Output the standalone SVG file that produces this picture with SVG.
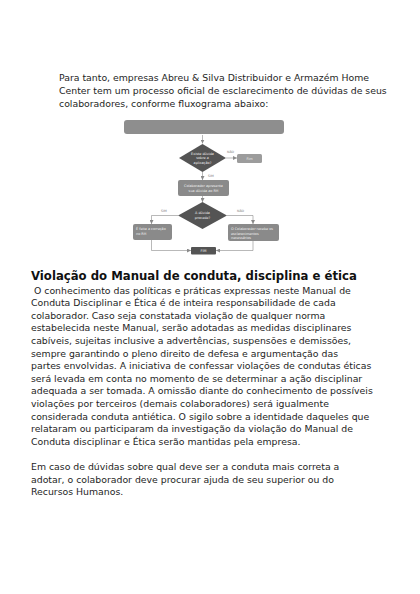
<svg xmlns="http://www.w3.org/2000/svg" width="420" height="594" viewBox="0 0 420 594">
<style>
.t{font-family:"DejaVu Sans",Verdana,sans-serif;font-size:9.33px;fill:#1e1e1e;white-space:pre}
.h{font-family:"DejaVu Sans",Verdana,sans-serif;font-size:11.7px;font-weight:bold;fill:#111}
.n{font-family:"DejaVu Sans",Verdana,sans-serif;font-size:3.4px;fill:#f2f2f2}
.lb{font-family:"DejaVu Sans",Verdana,sans-serif;font-size:3.2px;fill:#777}
.c{fill:none;stroke:#8a8a8a;stroke-width:0.6}
.box{fill:#8a8a8a}
.dk{fill:#545454}
</style>
<defs>
<marker id="a" viewBox="0 0 6 6" refX="6" refY="3" markerWidth="4" markerHeight="4" orient="auto" markerUnits="userSpaceOnUse">
<path d="M0,0 L6,3 L0,6 z" fill="#8a8a8a"/>
</marker>
</defs>
<rect width="420" height="594" fill="#fff"/>
<g id="intro">
<text class="t" x="59" y="81">Para tanto, empresas Abreu &amp; Silva Distribuidor e Armazém Home</text>
<text class="t" x="59" y="94">Center tem um processo oficial de esclarecimento de dúvidas de seus</text>
<text class="t" x="59" y="107">colaboradores, conforme fluxograma abaixo:</text>
</g>
<g id="connectors">
<path class="c" d="M202.5,135 V143.5" marker-end="url(#a)"/>
<path class="c" d="M226,158 H237" marker-end="url(#a)"/>
<path class="c" d="M202.5,172 V180" marker-end="url(#a)"/>
<path class="c" d="M202.5,196 V202" marker-end="url(#a)"/>
<path class="c" d="M178,215.5 H151.5 V224" marker-end="url(#a)"/>
<path class="c" d="M227,215.5 H253 V224" marker-end="url(#a)"/>
<path class="c" d="M151.5,240 V250.5 H191" marker-end="url(#a)"/>
<path class="c" d="M253,241 V250.5 H216" marker-end="url(#a)"/>
<text class="lb" x="227" y="153">NÃO</text>
<text class="lb" x="208" y="177">SIM</text>
<text class="lb" x="161" y="212">SIM</text>
<text class="lb" x="237" y="212">NÃO</text>
</g>
<g id="start">
<rect x="124" y="120" width="160" height="14" rx="3" fill="#8e8e8e"/>
</g>
<g id="d1">
<polygon class="dk" points="202.5,144 226,158 202.5,172 179,158"/>
<text class="n" text-anchor="middle" x="202.5" y="154.5">Existe dúvida</text>
<text class="n" text-anchor="middle" x="202.5" y="159">sobre a</text>
<text class="n" text-anchor="middle" x="202.5" y="163.5">aplicação?</text>
</g>
<g id="fim1">
<rect x="237" y="154" width="25" height="9" rx="1.5" fill="#9c9c9c"/>
<text class="n" text-anchor="middle" x="249.5" y="159.8">Fim</text>
</g>
<g id="b1">
<rect class="box" x="178" y="180" width="51" height="16" rx="2"/>
<text class="n" text-anchor="middle" x="203.5" y="187">Colaborador apresenta</text>
<text class="n" text-anchor="middle" x="203.5" y="191.5">sua dúvida ao RH</text>
</g>
<g id="d2">
<polygon class="dk" points="202.5,202 227,215.5 202.5,229 178,215.5"/>
<text class="n" text-anchor="middle" x="202.5" y="214">A dúvida</text>
<text class="n" text-anchor="middle" x="202.5" y="218.5">procede?</text>
</g>
<g id="b2">
<rect class="box" x="133" y="224" width="39" height="16" rx="2"/>
<text class="n" x="136" y="230">É feita a correção</text>
<text class="n" x="136" y="234.5">no RH</text>
</g>
<g id="b3">
<rect class="box" x="228" y="224" width="51" height="17" rx="2"/>
<text class="n" x="231" y="230">O Colaborador recebe os</text>
<text class="n" x="231" y="234.5">esclarecimentos</text>
<text class="n" x="231" y="239">necessários</text>
</g>
<g id="fim2">
<rect class="dk" x="191" y="247" width="25" height="7.5" rx="1"/>
<text class="n" text-anchor="middle" x="203.5" y="252">FIM</text>
</g>
<g id="body">
<text class="h" x="31" y="280">Violação do Manual de conduta, disciplina e ética</text>
<text class="t" x="31" y="293.5"> O conhecimento das políticas e práticas expressas neste Manual de</text>
<text class="t" x="31" y="306.1">Conduta Disciplinar e Ética é de inteira responsabilidade de cada</text>
<text class="t" x="31" y="318.7">colaborador. Caso seja constatada violação de qualquer norma</text>
<text class="t" x="31" y="331.3">estabelecida neste Manual, serão adotadas as medidas disciplinares</text>
<text class="t" x="31" y="343.9">cabíveis, sujeitas inclusive a advertências, suspensões e demissões,</text>
<text class="t" x="31" y="356.5">sempre garantindo o pleno direito de defesa e argumentação das</text>
<text class="t" x="31" y="369.1">partes envolvidas. A iniciativa de confessar violações de condutas éticas</text>
<text class="t" x="31" y="381.7">será levada em conta no momento de se determinar a ação disciplinar</text>
<text class="t" x="31" y="394.3">adequada a ser tomada. A omissão diante do conhecimento de possíveis</text>
<text class="t" x="31" y="406.9">violações por terceiros (demais colaboradores) será igualmente</text>
<text class="t" x="31" y="419.5">considerada conduta antiética. O sigilo sobre a identidade daqueles que</text>
<text class="t" x="31" y="432.1">relataram ou participaram da investigação da violação do Manual de</text>
<text class="t" x="31" y="444.7">Conduta disciplinar e Ética serão mantidas pela empresa.</text>
<text class="t" x="31" y="469.9">Em caso de dúvidas sobre qual deve ser a conduta mais correta a</text>
<text class="t" x="31" y="482.5">adotar, o colaborador deve procurar ajuda de seu superior ou do</text>
<text class="t" x="31" y="495.1">Recursos Humanos.</text>
</g>
</svg>
